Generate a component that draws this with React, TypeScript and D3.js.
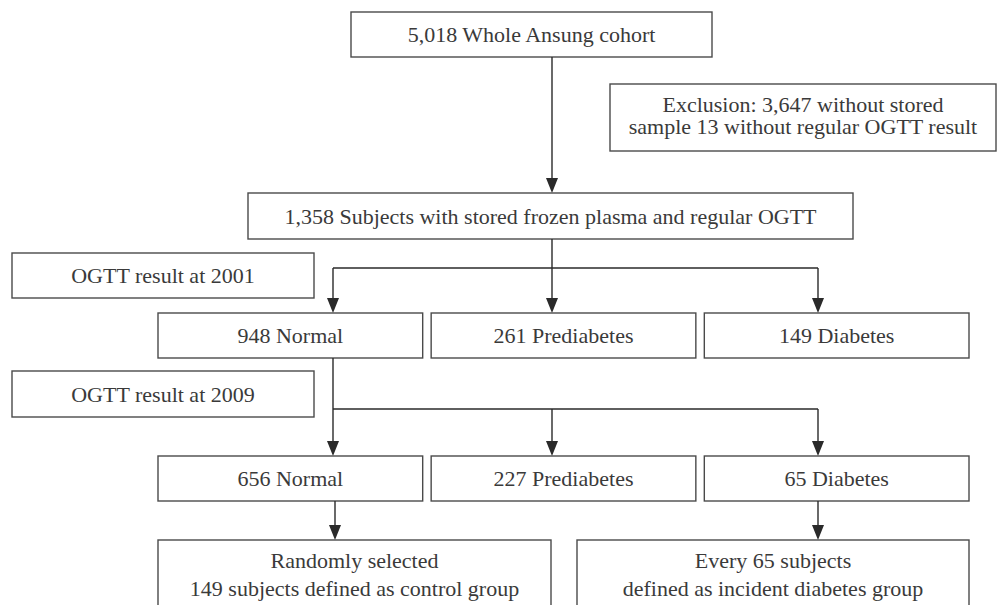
import React from 'react';
import * as d3 from 'd3';

// flow data
const topLabel = ['5,018 Whole Ansung cohort'];
const exclusionLabel = ['Exclusion: 3,647 without stored', 'sample 13 without regular OGTT result'];
const storedLabel = ['1,358 Subjects with stored frozen plasma and regular OGTT'];
const stageLabels = ['OGTT result at 2001', 'OGTT result at 2009'];
const groups = ['Normal', 'Prediabetes', 'Diabetes'];
const counts2001 = [948, 261, 149];
const counts2009 = [656, 227, 65];
const finalLabels = [
  ['Randomly selected', '149 subjects defined as control group'],
  ['Every 65 subjects', 'defined as incident diabetes group'],
];

const W = 998;
const H = 605;
const FONT = 'Liberation Serif, Times New Roman, serif';
const TEXT = '#3a3a3a';
const LINE = '#2a2a2a';
const BOX = '#4a4a4a';

const col = d3.scaleBand<number>().domain([0, 1, 2]).range([158, 969]).paddingInner(0.031);
const row = d3.scaleOrdinal<string, number>()
  .domain(['top', 'stored', 'r2001', 'r2009', 'final'])
  .range([12, 193, 313, 456, 540]);
const boxH = 45;
const branchX = [333, 552, 818];

type BoxProps = { x: number; y: number; w: number; h: number; lines: string[]; lh?: number; mid?: number };

const Box = ({ x, y, w, h, lines, lh = 28, mid }: BoxProps) => {
  const c = mid ?? y + h / 2;
  const cy = c - ((lines.length - 1) * lh) / 2;
  return (
    <g>
      <rect x={x} y={y} width={w} height={h} fill="#fff" stroke={BOX} strokeWidth={1.4} />
      {lines.map((t, i) => (
        <text key={i} x={x + w / 2} y={cy + i * lh} dy="0.35em" textAnchor="middle"
          fontFamily={FONT} fontSize={22} fill={TEXT}>{t}</text>
      ))}
    </g>
  );
};

const Arrow = ({ x, y1, y2 }: { x: number; y1: number; y2: number }) => {
  const path = d3.path();
  path.moveTo(x, y1);
  path.lineTo(x, y2 - 14);
  const head = d3.path();
  head.moveTo(x - 6, y2 - 15);
  head.lineTo(x + 6, y2 - 15);
  head.lineTo(x, y2);
  head.closePath();
  return (
    <g>
      <path d={path.toString()} stroke={LINE} strokeWidth={1.4} fill="none" />
      <path d={head.toString()} fill={LINE} />
    </g>
  );
};

const Branch = ({ y, from, to }: { y: number; from: number; to: number }) => {
  const p = d3.path();
  p.moveTo(branchX[0], y);
  p.lineTo(branchX[2], y);
  return (
    <g>
      <path d={p.toString()} stroke={LINE} strokeWidth={1.4} fill="none" />
      {branchX.map((bx, i) => (
        <Arrow key={i} x={bx} y1={i === 1 ? from : y} y2={to} />
      ))}
    </g>
  );
};

export default function App() {
  const stored = row('stored');
  const r1 = row('r2001');
  const r2 = row('r2009');
  const fin = row('final');
  return (
    <svg width={W} height={H} style={{ position: 'absolute', left: 0, top: 0, background: '#fff' }}>
      <Box x={351} y={row('top')} w={361} h={boxH} lines={topLabel} />
      <Box x={610} y={84} w={386} h={67} lines={exclusionLabel} lh={22} mid={115.5} />
      <Arrow x={552} y1={row('top') + boxH} y2={stored} />
      <Box x={248} y={stored} w={605} h={46} lines={storedLabel} />

      <Box x={12} y={253} w={302} h={45} lines={[stageLabels[0]]} />
      <Branch y={268} from={stored + 46} to={r1} />
      {groups.map((g, i) => (
        <Box key={g} x={col(i)!} y={r1} w={col.bandwidth()} h={boxH} lines={[`${counts2001[i]} ${g}`]} />
      ))}

      <Box x={12} y={371} w={302} h={46} lines={[stageLabels[1]]} />
      <path d={`M${branchX[0]},${r1 + boxH}V409`} stroke={LINE} strokeWidth={1.4} />
      <Branch y={409} from={409} to={r2} />
      {groups.map((g, i) => (
        <Box key={g} x={col(i)!} y={r2} w={col.bandwidth()} h={boxH} lines={[`${counts2009[i]} ${g}`]} />
      ))}

      <Arrow x={335} y1={r2 + boxH} y2={fin} />
      <Arrow x={818} y1={r2 + boxH} y2={fin} />
      <Box x={col(0)!} y={fin} w={393} h={80} lines={finalLabels[0]} mid={574.5} />
      <Box x={577} y={fin} w={392} h={80} lines={finalLabels[1]} mid={574.5} />
    </svg>
  );
}
